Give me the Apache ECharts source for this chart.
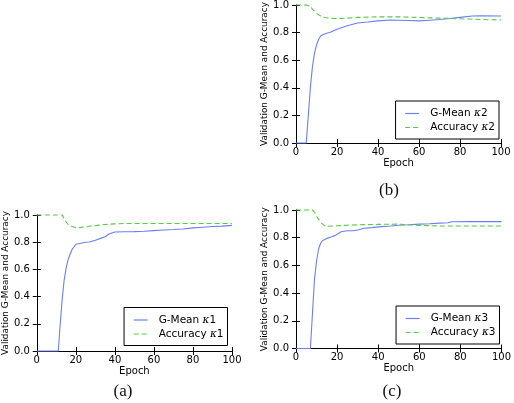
<!DOCTYPE html>
<html><head><meta charset="utf-8">
<script src="https://cdn.jsdelivr.net/npm/echarts@6/dist/echarts.min.js"></script>
<style>html,body{margin:0;padding:0;background:#fff}#c{width:514px;height:403px}</style>
</head><body><div id="c"></div>
<script>
// ---- data ----
const panelCaptions = ['(a)', '(b)', '(c)'];
const kappaNames = ['κ1', 'κ2', 'κ3'];
const xTickValues = [0, 20, 40, 60, 80, 100];
const yTickValues = [0, 0.2, 0.4, 0.6, 0.8, 1.0];
const xAxisTitle = 'Epoch';
const yAxisTitle = 'Validation G-Mean and Accuracy';

// (a) kappa 1
const gmeanEpochA = [0, 11, 12, 13, 14, 15, 16, 17, 18, 19, 20, 22, 25, 27, 30, 33, 35, 37, 40, 45, 50, 55, 60, 65, 70, 75, 80, 85, 90, 95, 100];
const gmeanA =      [0, 0, 0.2, 0.38, 0.52, 0.61, 0.67, 0.71, 0.745, 0.765, 0.785, 0.79, 0.8, 0.802, 0.815, 0.83, 0.84, 0.86, 0.875, 0.877, 0.878, 0.88, 0.885, 0.89, 0.893, 0.897, 0.905, 0.91, 0.915, 0.918, 0.924];
const accEpochA = [0, 13, 14, 15, 16, 18, 20, 22, 25, 30, 35, 40, 45, 100];
const accA =      [1.0, 1.0, 0.975, 0.95, 0.93, 0.915, 0.907, 0.907, 0.914, 0.922, 0.93, 0.935, 0.938, 0.938];

// (b) kappa 2
const gmeanEpochB = [0, 5, 6, 7, 8, 9, 10, 11, 12, 13, 15, 17, 20, 25, 30, 35, 40, 46, 50, 55, 60, 65, 70, 75, 80, 86, 90, 100];
const gmeanB =      [0, 0, 0.2, 0.4, 0.55, 0.65, 0.71, 0.75, 0.775, 0.785, 0.795, 0.805, 0.825, 0.85, 0.87, 0.877, 0.885, 0.891, 0.89, 0.888, 0.885, 0.89, 0.895, 0.902, 0.91, 0.92, 0.921, 0.92];
const accEpochB = [0, 5, 7, 8, 10, 12, 14, 17, 20, 25, 30, 40, 50, 60, 70, 80, 90, 100];
const accB =      [1.0, 1.0, 0.99, 0.97, 0.94, 0.92, 0.91, 0.903, 0.902, 0.905, 0.91, 0.914, 0.914, 0.91, 0.905, 0.9, 0.895, 0.891];

// (c) kappa 3
const gmeanEpochC = [0, 7, 8, 9, 10, 11, 12, 13, 15, 17, 19, 20, 22, 25, 28, 30, 33, 37, 40, 46, 50, 55, 60, 65, 70, 74, 76, 85, 100];
const gmeanC =      [0, 0, 0.25, 0.5, 0.63, 0.72, 0.76, 0.78, 0.795, 0.805, 0.815, 0.825, 0.843, 0.85, 0.85, 0.856, 0.868, 0.873, 0.878, 0.885, 0.89, 0.893, 0.898, 0.901, 0.905, 0.908, 0.915, 0.916, 0.916];
const accEpochC = [0, 8, 9, 10, 12, 14, 16, 20, 25, 30, 40, 49, 55, 60, 70, 100];
const accC =      [1.0, 1.0, 0.985, 0.955, 0.91, 0.885, 0.883, 0.886, 0.89, 0.893, 0.896, 0.898, 0.893, 0.889, 0.885, 0.885];

const gmeanEpochs = [gmeanEpochA, gmeanEpochB, gmeanEpochC];
const gmeanVals = [gmeanA, gmeanB, gmeanC];
const accEpochs = [accEpochA, accEpochB, accEpochC];
const accVals = [accA, accB, accC];

// ---- layout / style ----
const FONT = 'DejaVu Sans';
const BLUE = '#6b7ff2';
const GREEN = '#55cc44';
const grids = [
  {left: 29, top: 215, width: 203, height: 136},
  {left: 296, top: 5, width: 205, height: 138},
  {left: 296, top: 210, width: 205.5, height: 138.5}
];
const legendPos = [
  {right: 286.5, bottom: 57.5},
  {right: 15, bottom: 264},
  {right: 14.5, bottom: 59}
];
const captionPos = [[123, 392], [389, 191], [392, 392]];

const zip = (xs, ys) => xs.map((x, i) => [x, ys[i]]);

const xAxes = [], yAxes = [], series = [], legends = [], graphics = [];
grids.forEach((g, i) => {
  const base = {
    gridIndex: i, type: 'value',
    axisLine: {show: true, lineStyle: {color: '#000', width: 1}},
    axisTick: {show: true, inside: true, length: 4, lineStyle: {color: '#000'}},
    splitLine: {show: false}
  };
  xAxes.push(Object.assign({}, base, {
    position: 'bottom', min: xTickValues[0], max: xTickValues[xTickValues.length - 1],
    interval: xTickValues[1] - xTickValues[0],
    name: xAxisTitle, nameLocation: 'middle', nameGap: 15,
    nameTextStyle: {fontFamily: FONT, fontSize: 10, color: '#000'},
    axisLabel: {fontFamily: FONT, fontSize: 10, color: '#000', margin: 4, showMinLabel: true, showMaxLabel: true}
  }));
  xAxes.push(Object.assign({}, base, {
    position: 'top', min: xTickValues[0], max: xTickValues[xTickValues.length - 1],
    interval: xTickValues[1] - xTickValues[0], axisLabel: {show: false}
  }));
  yAxes.push(Object.assign({}, base, {
    position: 'left', min: yTickValues[0], max: yTickValues[yTickValues.length - 1],
    interval: 0.2,
    name: yAxisTitle, nameLocation: 'middle', nameGap: 19,
    nameTextStyle: {fontFamily: FONT, fontSize: 8.9, color: '#000'},
    axisLabel: {fontFamily: FONT, fontSize: 10, color: '#000', margin: 7, formatter: v => v.toFixed(1)}
  }));
  yAxes.push(Object.assign({}, base, {
    position: 'right', min: yTickValues[0], max: yTickValues[yTickValues.length - 1],
    interval: 0.2, axisLabel: {show: false}
  }));
  const gName = 'G-Mean ' + kappaNames[i];
  const aName = 'Accuracy ' + kappaNames[i];
  series.push({
    name: gName, type: 'line', xAxisIndex: 2 * i, yAxisIndex: 2 * i,
    data: zip(gmeanEpochs[i], gmeanVals[i]), symbol: 'none', clip: false,
    lineStyle: {color: BLUE, width: 1.1}, itemStyle: {color: BLUE}, z: 3
  });
  series.push({
    name: aName, type: 'line', xAxisIndex: 2 * i, yAxisIndex: 2 * i,
    data: zip(accEpochs[i], accVals[i]), symbol: 'none', clip: false,
    lineStyle: {color: GREEN, width: 1.1, type: [5, 3]}, itemStyle: {color: GREEN}, z: 3
  });
  legends.push(Object.assign({
    data: [gName, aName], orient: 'vertical',
    backgroundColor: '#fff', borderColor: '#000', borderWidth: 1, borderRadius: 0,
    padding: [7, 4, 6, 9], itemGap: 3, itemWidth: 14, itemHeight: 12,
    selectedMode: false, z: 10,
    itemStyle: {opacity: 0},
    lineStyle: {width: 1.2},
    textStyle: {fontFamily: FONT, fontSize: 10.5, color: '#000', padding: [0, 0, 0, 6],
      rich: {k: {fontFamily: 'DejaVu Serif', fontStyle: 'italic', fontSize: 10.5, color: '#000'},
             n: {fontFamily: FONT, fontSize: 10.5, color: '#000'}}},
    formatter: name => {
      const parts = name.split(' ');
      const kap = parts.pop();
      return '{n|' + parts.join(' ') + ' }{k|κ}{n|' + kap.slice(1) + '}';
    }
  }, legendPos[i]));
  graphics.push({
    type: 'text', x: captionPos[i][0], y: captionPos[i][1],
    style: {text: panelCaptions[i], font: '17px "Liberation Serif"', fill: '#111', textAlign: 'center', textVerticalAlign: 'middle'}
  });
});

const chart = echarts.init(document.getElementById('c'), null, {renderer: 'canvas'});
chart.setOption({
  animation: false,
  backgroundColor: '#fff',
  grid: grids,
  xAxis: xAxes,
  yAxis: yAxes,
  series: series,
  legend: legends,
  graphic: graphics
});
</script>
</body></html>
